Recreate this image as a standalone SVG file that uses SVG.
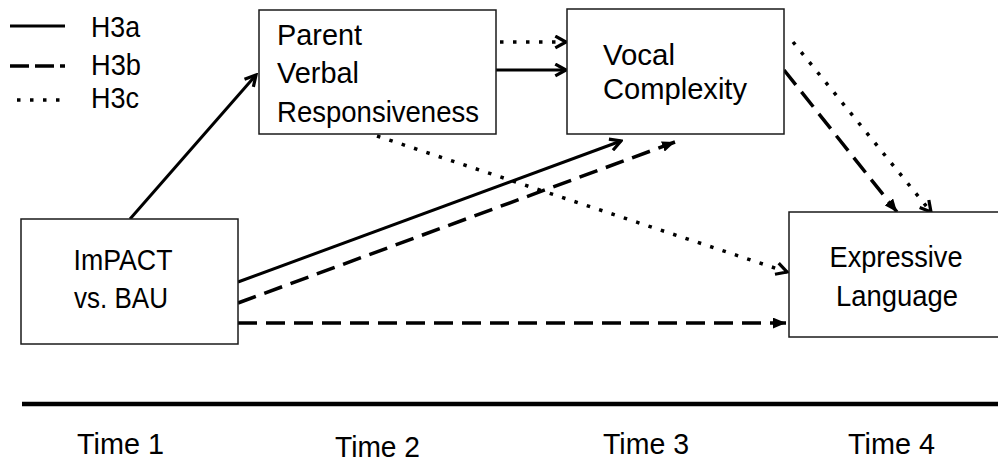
<svg xmlns="http://www.w3.org/2000/svg" width="998" height="463" viewBox="0 0 998 463">
<style>
  text { font-family: "Liberation Sans", Arial, sans-serif; font-size: 29px; fill: #000; }
  .box { fill: #fff; stroke: #1a1a1a; stroke-width: 1.5; }
  .solid { stroke: #000; stroke-width: 3; fill: none; }
  .dash { stroke: #000; stroke-width: 3.5; fill: none; stroke-dasharray: 19 9; }
  .dot { stroke: #000; stroke-width: 3.5; fill: none; stroke-dasharray: 3.5 9.5; }
</style>
<defs>
  <marker id="open" viewBox="0 0 14 14" refX="12" refY="7" markerWidth="15" markerHeight="15" markerUnits="userSpaceOnUse" orient="auto">
    <path d="M2,1.5 L12,7 L2,12.5" fill="none" stroke="#000" stroke-width="3" stroke-linecap="butt" stroke-linejoin="miter"/>
  </marker>
  <marker id="tri" viewBox="0 0 12 10" refX="12" refY="5" markerWidth="13" markerHeight="11" markerUnits="userSpaceOnUse" orient="auto">
    <path d="M0,0 L12,5 L0,10 z" fill="#000"/>
  </marker>
</defs>

<g id="legend">
  <line x1="10" y1="26" x2="65" y2="26" class="solid"/>
  <text x="91" y="37" textLength="49" lengthAdjust="spacingAndGlyphs">H3a</text>
  <line x1="10" y1="66" x2="65" y2="66" class="dash" style="stroke-dasharray:19 6"/>
  <text x="91" y="75" textLength="50" lengthAdjust="spacingAndGlyphs">H3b</text>
  <line x1="17" y1="100" x2="65" y2="100" class="dot"/>
  <text x="91" y="108" textLength="48" lengthAdjust="spacingAndGlyphs">H3c</text>
</g>

<g id="connectors">
  <line x1="130" y1="219" x2="256" y2="75" class="solid" marker-end="url(#open)"/>
  <line x1="496" y1="70" x2="566" y2="70" class="solid" marker-end="url(#open)"/>
  <line x1="500" y1="42" x2="566" y2="42" class="dot" marker-end="url(#open)"/>
  <line x1="238" y1="282" x2="621" y2="141" class="solid" marker-end="url(#open)"/>
  <line x1="238" y1="303" x2="675" y2="142" class="dash" marker-end="url(#tri)"/>
  <line x1="238" y1="323" x2="786" y2="323" class="dash" marker-end="url(#tri)"/>
  <line x1="377" y1="136" x2="787" y2="272" class="dot" marker-end="url(#open)"/>
  <line x1="784" y1="70" x2="897" y2="212" class="dash" marker-end="url(#tri)"/>
  <line x1="793" y1="42" x2="931" y2="212" class="dot" marker-end="url(#open)"/>
</g>

<g id="node-pvr">
  <rect x="259" y="10" width="237" height="124" class="box"/>
  <text x="277" y="45" textLength="85" lengthAdjust="spacingAndGlyphs">Parent</text>
  <text x="277" y="83" textLength="82" lengthAdjust="spacingAndGlyphs">Verbal</text>
  <text x="277" y="122" textLength="202" lengthAdjust="spacingAndGlyphs">Responsiveness</text>
</g>

<g id="node-vocal">
  <rect x="567" y="9" width="217" height="125" class="box"/>
  <text x="603" y="65" textLength="72" lengthAdjust="spacingAndGlyphs">Vocal</text>
  <text x="603" y="99" textLength="144" lengthAdjust="spacingAndGlyphs">Complexity</text>
</g>

<g id="node-impact">
  <rect x="21" y="219" width="217" height="125" class="box"/>
  <text x="123" y="270" text-anchor="middle" textLength="99" lengthAdjust="spacingAndGlyphs">ImPACT</text>
  <text x="121" y="308" text-anchor="middle" textLength="94" lengthAdjust="spacingAndGlyphs">vs. BAU</text>
</g>

<g id="node-expressive">
  <rect x="789" y="212" width="215" height="125" class="box"/>
  <text x="896" y="267" text-anchor="middle" textLength="133" lengthAdjust="spacingAndGlyphs">Expressive</text>
  <text x="897" y="306" text-anchor="middle" textLength="122" lengthAdjust="spacingAndGlyphs">Language</text>
</g>

<g id="timeline">
  <line x1="22" y1="404" x2="998" y2="404" stroke="#000" stroke-width="4.5"/>
  <text x="77" y="454" textLength="87" lengthAdjust="spacingAndGlyphs">Time 1</text>
  <text x="335" y="457" textLength="85" lengthAdjust="spacingAndGlyphs">Time 2</text>
  <text x="603" y="454" textLength="86" lengthAdjust="spacingAndGlyphs">Time 3</text>
  <text x="848" y="454" textLength="87" lengthAdjust="spacingAndGlyphs">Time 4</text>
</g>
</svg>
